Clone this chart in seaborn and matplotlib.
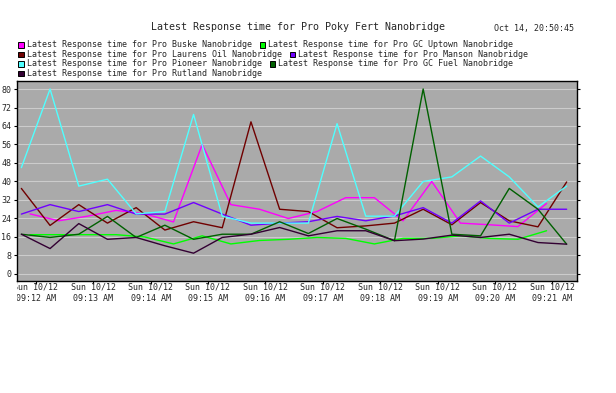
import numpy as np
import pandas as pd
import matplotlib
matplotlib.use('Agg')
import matplotlib.pyplot as plt
import seaborn as sns
from matplotlib.patches import Rectangle
from matplotlib.transforms import Bbox, TransformedBbox

title = 'Latest Response time for Pro Poky Fert Nanobridge'
stamp = 'Oct 14, 20:50:45'

# sample times (two polling offsets)
times_a = ['09:11:45', '09:12:15', '09:12:45', '09:13:15', '09:13:45', '09:14:15', '09:14:45',
           '09:15:15', '09:15:45', '09:16:15', '09:16:45', '09:17:15', '09:17:45', '09:18:15',
           '09:18:45', '09:19:15', '09:19:45', '09:20:15', '09:20:45', '09:21:15']
times_b = ['09:11:54', '09:12:24', '09:12:54', '09:13:24', '09:13:54', '09:14:24', '09:14:54',
           '09:15:24', '09:15:54', '09:16:24', '09:16:54', '09:17:24', '09:17:54', '09:18:24',
           '09:18:54', '09:19:24', '09:19:54', '09:20:24', '09:20:54']

buske = [26, 23, 25, 27.5, 26, 22.5, 56, 30, 28, 24, 27, 33, 33, 23, 40, 22, 21.3, 20.5, 30.5]
gc_uptown = [17, 17, 17, 17, 16, 13, 16.5, 13, 14.5, 15, 15.8, 15.4, 13, 15.4, 15.4, 16.5, 15.4, 15, 18.7]
laurens = [37, 21, 30, 22, 28.7, 19, 22.6, 20, 65.8, 28, 27, 20, 20.8, 22, 28, 21.3, 30.9, 23, 20.4, 39.8]
manson = [25.9, 30, 27, 30, 25.9, 25.9, 30.9, 25.9, 21.1, 22, 22.6, 24.9, 23, 25.1, 28.7, 22, 31.6, 22, 28, 28]
pioneer = [46, 80, 38, 41, 26, 27, 69, 25, 22, 22, 22, 65, 25, 25, 40, 42, 51, 42, 29, 38]
gc_fuel = [17.2, 15.8, 17.2, 24.9, 15.8, 21.1, 15, 17.2, 17.2, 22.6, 17.5, 24, 19.4, 14.4, 80, 17.2, 16.5, 37, 28, 12.9]
rutland = [17.2, 11, 21.8, 15, 15.8, 12.2, 9, 15.8, 17.2, 20.1, 16.5, 18.7, 18.7, 14.4, 15.1, 16.8, 15.8, 17.2, 13.6, 12.9]

names = ['Buske', 'GC Uptown', 'Laurens Oil', 'Manson', 'Pioneer', 'GC Fuel', 'Rutland']
colors = ['#ff00ff', '#00ff00', '#700000', '#7000ff', '#50ffff', '#006000', '#330033']
series = [(buske, times_b), (gc_uptown, times_b), (laurens, times_a), (manson, times_a),
          (pioneer, times_a), (gc_fuel, times_a), (rutland, times_a)]

tick_labels = ['Sun 10/12\n09:%02d AM' % m for m in range(12, 22)]

frames = []
for name, (vals, times) in zip(names, series):
    t = pd.to_timedelta(times) - pd.to_timedelta('09:12:00')
    frames.append(pd.DataFrame({'minute': t.total_seconds() / 60, 'value': vals, 'series': name}))
df = pd.concat(frames, ignore_index=True)

sns.set_style('white')
plt.rcParams['font.family'] = ['DejaVu Sans Mono']

fig = plt.figure(figsize=(6.16, 3.93), dpi=100)
W, H = 616, 393
ax = fig.add_axes([17 / W, 1 - 281 / H, (576.7 - 17) / W, 200 / H])
ax.set_facecolor('#aaaaaa')

sns.lineplot(data=df, x='minute', y='value', hue='series', hue_order=names,
             palette=dict(zip(names, colors)), estimator=None, sort=False,
             legend=False, lw=1.0, ax=ax)

ax.set_xlim(-0.326, 9.425)
ax.set_ylim(-3.03, 83.46)
ax.set_yticks(range(0, 81, 8))
ax.set_xticks(range(10))
ax.set_xticklabels(tick_labels, linespacing=1.35)
ax.grid(axis='y', color='#cccccc', lw=0.8)
ax.set_axisbelow(True)
ax.set_xlabel('')
ax.set_ylabel('')
for s in ax.spines.values():
    s.set_color('black')
    s.set_linewidth(1.0)
ax.tick_params(axis='both', direction='out', length=2.5, width=0.8, color='black',
               labelsize=6, pad=1.5)
ax.tick_params(axis='y', right=True, left=True)
ax.tick_params(axis='x', bottom=True, pad=-1.5)

clip = TransformedBbox(Bbox([[0, -1], [1.2, 1]]), ax.transAxes)
for lab in ax.get_xticklabels():
    lab.set_clip_box(clip)
    lab.set_clip_on(True)

fig.text(298 / W, 1 - 27 / H, title, ha='center', va='center', fontsize=7.2)
fig.text(574 / W, 1 - 28.5 / H, stamp, ha='right', va='center', fontsize=6)

# legend, two entries per row, flowing
renderer = fig.canvas.get_renderer()
rows = [[0, 1], [2, 3], [4, 5], [6]]
row_y = [44.8, 54.4, 64.0, 73.6]
for r, idxs in zip(row_y, rows):
    x = 18.3
    for i in idxs:
        fig.patches.append(Rectangle((x / W, 1 - (r + 2.7) / H), 5.5 / W, 5.5 / H,
                                     transform=fig.transFigure, facecolor=colors[i],
                                     edgecolor='black', lw=0.7))
        t = fig.text((x + 8.4) / W, 1 - r / H,
                     'Latest Response time for Pro %s Nanobridge' % names[i],
                     ha='left', va='center', fontsize=6)
        x = t.get_window_extent(renderer).x1 + 8

fig.savefig('out.png', dpi=100, facecolor='white')
